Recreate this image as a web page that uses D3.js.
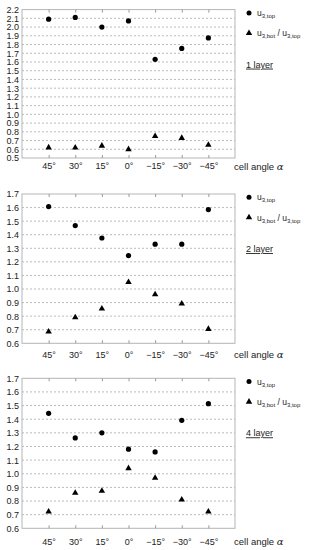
<!DOCTYPE html>
<html><head><meta charset="utf-8">
<script src="https://cdn.jsdelivr.net/npm/d3@7"></script>
<style>body{margin:0;background:#fff}svg{display:block}</style>
</head><body>
<script>
const categories = ["45°","30°","15°","0°","\u221215°","\u221230°","\u221245°"];
const layerLabels = ["1 layer","2 layer","4 layer"];
const topValues1 = [2.09,2.11,2.00,2.07,1.63,1.755,1.876];
const ratioValues1 = [0.62,0.618,0.64,0.60,0.75,0.728,0.65];
const topValues2 = [1.607,1.467,1.376,1.246,1.33,1.33,1.585];
const ratioValues2 = [0.686,0.79,0.855,1.05,0.96,0.892,0.705];
const topValues4 = [1.443,1.263,1.30,1.18,1.16,1.392,1.514];
const ratioValues4 = [0.722,0.859,0.874,1.04,0.969,0.81,0.722];
const yTicks1 = d3.range(5,23).map(v=>v/10);
const yTicks2 = d3.range(6,18).map(v=>v/10);
const yTicks4 = d3.range(6,18).map(v=>v/10);

const panels = [
  {top:topValues1, ratio:ratioValues1, ticks:yTicks1, dom:[0.5,2.2], y0:9.6, y1:158, pad:5, label:layerLabels[0]},
  {top:topValues2, ratio:ratioValues2, ticks:yTicks2, dom:[0.6,1.7], y0:194, y1:343.3, pad:8, label:layerLabels[1]},
  {top:topValues4, ratio:ratioValues4, ticks:yTicks4, dom:[0.6,1.7], y0:378.3, y1:528.3, pad:10, label:layerLabels[2]}
];

const W=311,H=550, L=22, R=235;
const svg = d3.select("body").append("svg").attr("width",W).attr("height",H)
  .style("font-family","'Liberation Sans',Arial,sans-serif");

const x = d3.scalePoint().domain(categories).range([L,R]).padding(1);

panels.forEach(p=>{
  const y = d3.scaleLinear().domain(p.dom).range([p.y1,p.y0]);
  const g = svg.append("g");
  g.append("g").selectAll("line").data(p.ticks.filter(t=>t>p.dom[0]+1e-9 && t<p.dom[1]-1e-9)).join("line")
    .attr("x1",L).attr("x2",R).attr("y1",d=>y(d)).attr("y2",d=>y(d))
    .attr("stroke","#a8a8a8").attr("stroke-width",0.8).attr("stroke-dasharray","2,2");
  g.append("rect").attr("x",L).attr("y",p.y0).attr("width",R-L).attr("height",p.y1-p.y0)
    .attr("fill","none").attr("stroke","#b5b5b5").attr("stroke-width",1);
  const ya = d3.axisLeft(y).tickValues(p.ticks).tickFormat(d3.format(".1f")).tickSize(0).tickPadding(3);
  const yg = g.append("g").attr("transform",`translate(${L},0)`).call(ya);
  yg.select(".domain").remove();
  yg.selectAll("text").attr("font-size",9).attr("fill","#222").attr("font-family","'Liberation Sans',Arial,sans-serif");
  const xa = d3.axisBottom(x).tickSize(-3).tickPadding(p.pad);
  const xg = g.append("g").attr("transform",`translate(0,${p.y1})`).call(xa);
  xg.select(".domain").remove();
  xg.selectAll("line").attr("stroke","#999");
  xg.selectAll("text").attr("font-size",9).attr("fill","#222").attr("font-family","'Liberation Sans',Arial,sans-serif");
  const xt = d3.axisTop(x).tickSize(-3).tickFormat("");
  const xtg = g.append("g").attr("transform",`translate(0,${p.y0})`).call(xt);
  xtg.select(".domain").remove();
  xtg.selectAll("line").attr("stroke","#999");
  const t = g.append("text").attr("x",R-1).attr("y",p.y1+p.pad+6.6).attr("font-size",9.5).attr("fill","#222");
  t.append("tspan").text("cell angle ");
  t.append("tspan").text("α").attr("font-style","italic").attr("font-family","'DejaVu Serif',serif").attr("font-size",10);
  g.append("g").selectAll("circle").data(p.top).join("circle")
    .attr("cx",(d,i)=>x(categories[i])).attr("cy",d=>y(d)).attr("r",2.6).attr("fill","#000");
  const tri = d3.symbol().type(d3.symbolTriangle).size(18);
  g.append("g").selectAll("path").data(p.ratio).join("path")
    .attr("d",tri).attr("transform",(d,i)=>`translate(${x(categories[i])},${y(d)})`).attr("fill","#000");
  const lx = 249, ly1 = p.y0+3.3, ly2 = p.y0+23.5;
  g.append("circle").attr("cx",lx).attr("cy",ly1).attr("r",2.5).attr("fill","#000");
  g.append("path").attr("d",tri).attr("transform",`translate(${lx},${ly2})`).attr("fill","#000");
  const l1 = g.append("text").attr("x",257).attr("y",ly1+3).attr("font-size",8.5).attr("fill","#222");
  l1.append("tspan").text("u");
  l1.append("tspan").text("3,top").attr("font-size",6).attr("dy",2);
  const l2 = g.append("text").attr("x",257).attr("y",ly2+3).attr("font-size",8.5).attr("fill","#222");
  l2.append("tspan").text("u");
  l2.append("tspan").text("3,bot").attr("font-size",6).attr("dy",2);
  l2.append("tspan").text(" / u").attr("dy",-2);
  l2.append("tspan").text("3,top").attr("font-size",6).attr("dy",2);
  g.append("text").attr("x",246).attr("y",p.y0+58).attr("font-size",9).attr("fill","#222")
    .attr("text-decoration","underline").text(p.label);
});
</script>
</body></html>
